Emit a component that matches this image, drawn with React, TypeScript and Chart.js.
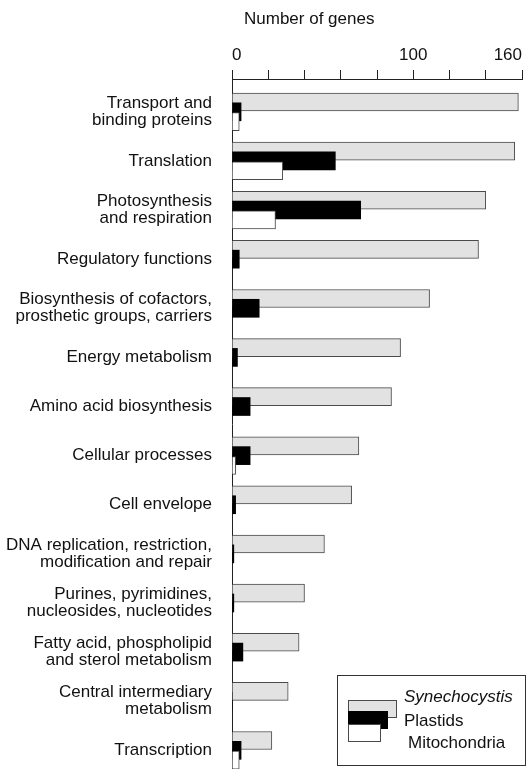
import React, { useEffect, useRef } from "react";
import { Chart, registerables } from "chart.js";

Chart.register(...registerables);

const categories: string[][] = [
  ["Transport and", "binding proteins"],
  ["Translation"],
  ["Photosynthesis", "and respiration"],
  ["Regulatory functions"],
  ["Biosynthesis of cofactors,", "prosthetic groups, carriers"],
  ["Energy metabolism"],
  ["Amino acid biosynthesis"],
  ["Cellular processes"],
  ["Cell envelope"],
  ["DNA replication, restriction,", "modification and repair"],
  ["Purines, pyrimidines,", "nucleosides, nucleotides"],
  ["Fatty acid, phospholipid", "and sterol metabolism"],
  ["Central intermediary", "metabolism"],
  ["Transcription"],
];

const synechocystis = [158, 156, 140, 136, 109, 93, 88, 70, 66, 51, 40, 37, 31, 22];
const plastids = [5, 57, 71, 4, 15, 3, 10, 10, 2, 1, 1, 6, 0, 5];
const mitochondria = [4, 28, 24, 0, 0, 0, 0, 2, 0, 0, 0, 0, 0, 4];

const seriesNames = ["Synechocystis", "Plastids", "Mitochondria"];
const xTickLabels = [0, 100, 160];
const axisTitle = "Number of genes";

const FONT = "'Liberation Sans', Arial, Helvetica, sans-serif";
const TEXT = "#111";
const Y_MIN = -0.668;
const Y_MAX = 13.38;

const titlePlugin = {
  id: "axisTitleLeft",
  afterDraw(chart: any) {
    const { ctx, chartArea } = chart;
    ctx.save();
    ctx.font = `17px ${FONT}`;
    ctx.fillStyle = TEXT;
    ctx.textAlign = "left";
    ctx.textBaseline = "alphabetic";
    ctx.fillText(axisTitle, chartArea.left + 12, 24);
    ctx.restore();
  },
};

const legendPlugin = {
  id: "staggeredLegend",
  afterDraw(chart: any) {
    const { ctx, chartArea } = chart;
    const ds = chart.data.datasets;
    const L = chartArea.left + 105;
    const T = chartArea.bottom - 94;
    const R = chart.width - 1;
    const B = chartArea.bottom - 3;
    ctx.save();
    ctx.fillStyle = "#fff";
    ctx.fillRect(L, T, R - L, B - T);
    ctx.strokeStyle = "#333";
    ctx.lineWidth = 1;
    ctx.strokeRect(L + 0.5, T + 0.5, R - L - 1, B - T - 1);

    const sw = [
      { x: L + 11, y: T + 25, w: 49, h: 18 },
      { x: L + 11, y: T + 36, w: 40, h: 18 },
      { x: L + 11, y: T + 49, w: 33, h: 18 },
    ];
    sw.forEach((s, i) => {
      const d = ds[i];
      ctx.fillStyle = d.backgroundColor;
      ctx.fillRect(s.x, s.y, s.w, s.h);
      if (d.borderWidth) {
        ctx.strokeStyle = d.borderColor;
        ctx.lineWidth = 1;
        ctx.strokeRect(s.x + 0.5, s.y + 0.5, s.w - 1, s.h - 1);
      }
    });

    ctx.fillStyle = TEXT;
    ctx.textAlign = "left";
    ctx.textBaseline = "middle";
    ctx.font = `italic 17px ${FONT}`;
    ctx.fillText(ds[0].label, L + 67, T + 22);
    ctx.font = `17px ${FONT}`;
    ctx.fillText(ds[1].label, L + 67, T + 46);
    ctx.fillText(ds[2].label, L + 71, T + 68.5);
    ctx.restore();
  },
};

export default function App() {
  const ref = useRef<HTMLCanvasElement | null>(null);

  useEffect(() => {
    if (!ref.current) return;
    Chart.defaults.font.family = FONT;
    Chart.defaults.color = TEXT;
    const off = 0.2;
    const chart = new Chart(ref.current, {
      type: "bar",
      data: {
        datasets: [
          {
            label: seriesNames[0],
            data: synechocystis.map((v, i) => ({ x: v, y: i - off })),
            backgroundColor: "#e2e2e2",
            borderColor: "#4a4a4a",
            borderWidth: 1,
            order: 3,
          },
          {
            label: seriesNames[1],
            data: plastids.map((v, i) => ({ x: v, y: i })),
            backgroundColor: "#000000",
            borderColor: "#000000",
            borderWidth: 0,
            order: 2,
          },
          {
            label: seriesNames[2],
            data: mitochondria.map((v, i) => ({ x: v, y: i + off })),
            backgroundColor: "#ffffff",
            borderColor: "#4a4a4a",
            borderWidth: 1,
            order: 1,
          },
        ] as any,
      },
      plugins: [titlePlugin, legendPlugin],
      options: {
        animation: false,
        responsive: false,
        events: [],
        indexAxis: "y",
        datasets: { bar: { grouped: false, barThickness: 18 } as any },
        layout: { padding: { left: 0, right: 5, top: 0, bottom: 0 } },
        plugins: {
          legend: { display: false },
          tooltip: { enabled: false },
          title: { display: false },
        },
        scales: {
          x: {
            type: "linear",
            position: "top",
            min: 0,
            max: 160,
            bounds: "data",
            offset: false,
            afterFit: (s: any) => {
              s.height = 79;
              s.paddingLeft = 0;
              s.paddingRight = 0;
            },
            afterBuildTicks: (s: any) => {
              const t = [];
              for (let v = 0; v <= 160; v += 20) t.push({ value: v });
              s.ticks = t;
            },
            ticks: {
              autoSkip: false,
              maxRotation: 0,
              align: "inner",
              padding: 4,
              font: { size: 17 },
              color: TEXT,
              callback: (v: any) => (xTickLabels.includes(Number(v)) ? String(v) : ""),
            },
            grid: {
              display: true,
              drawOnChartArea: false,
              drawTicks: true,
              tickLength: 9,
              color: "#222",
              lineWidth: 1,
            },
            border: { display: true, color: "#222", width: 1 },
          },
          y: {
            type: "linear",
            reverse: true,
            min: Y_MIN,
            max: Y_MAX,
            bounds: "data",
            offset: false,
            afterFit: (s: any) => {
              s.width = 232;
              s.paddingTop = 0;
              s.paddingBottom = 0;
            },
            afterBuildTicks: (s: any) => {
              s.ticks = categories.map((_, i) => ({ value: i }));
            },
            ticks: {
              autoSkip: false,
              padding: 12,
              font: { size: 17, lineHeight: 1.0 },
              color: TEXT,
              callback: (v: any) => categories[Number(v)] ?? "",
            },
            grid: { display: false, offset: false },
            border: { display: true, color: "#222", width: 1 },
          },
        },
      } as any,
    });
    return () => chart.destroy();
  }, []);

  return (
    <div style={{ position: "absolute", left: 0, top: 0, width: 527, height: 769 }}>
      <canvas ref={ref} width={527} height={769} style={{ display: "block" }} />
    </div>
  );
}
